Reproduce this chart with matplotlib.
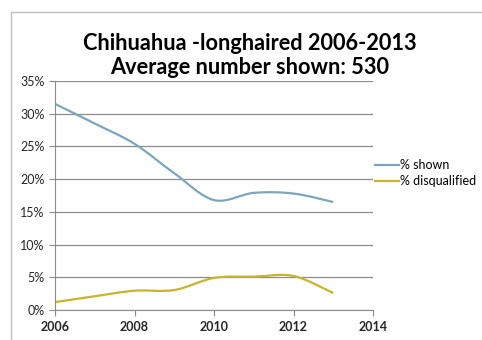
import matplotlib.pyplot as plt
import numpy as np
from matplotlib.path import Path
from matplotlib.patches import PathPatch, Rectangle
from matplotlib.lines import Line2D

years = [2006, 2007, 2008, 2009, 2010, 2011, 2012, 2013]
pct_shown = [31.5, 28.5, 25.4, 20.9, 16.8, 17.9, 17.8, 16.5]
pct_disq = [1.2, 2.1, 2.95, 3.05, 4.9, 5.1, 5.2, 2.6]
series_names = ['% shown', '% disqualified']
colors = ['#7BA7BC', '#C9B42B']

plt.rcParams['font.family'] = ['Lato', 'DejaVu Sans']


def smooth_path(x, y):
    # Excel-style smoothed line: cubic bezier through each point
    pts = np.column_stack([x, y]).astype(float)
    n = len(pts)
    verts = [pts[0]]
    codes = [Path.MOVETO]
    for i in range(n - 1):
        p0 = pts[max(i - 1, 0)]
        p1 = pts[i]
        p2 = pts[i + 1]
        p3 = pts[min(i + 2, n - 1)]
        c1 = p1 + (p2 - p0) / 6.0
        c2 = p2 - (p3 - p1) / 6.0
        verts += [c1, c2, p2]
        codes += [Path.CURVE4] * 3
    return Path(verts, codes)


fig = plt.figure(figsize=(4.82, 3.4), dpi=100)
fig.patches.append(Rectangle((11 / 482, -0.1), 1.2, 1 - 12 / 340 + 0.1,
                             transform=fig.transFigure, fill=False,
                             edgecolor='#BFBFBF', linewidth=1))

ax = fig.add_axes([55 / 482, 1 - 310 / 340, 318 / 482, 229 / 340])
for vals, c in zip([pct_shown, pct_disq], colors):
    ax.add_patch(PathPatch(smooth_path(years, vals), facecolor='none',
                           edgecolor=c, linewidth=1.6))

ax.set_xlim(2006, 2014)
ax.set_ylim(0, 35)
ax.set_xticks(range(2006, 2015, 2))
ax.set_yticks(range(0, 36, 5))
ax.set_yticklabels([f'{v}%' for v in range(0, 36, 5)])
ax.grid(axis='y', color='#8C8C8C', linewidth=0.9)
ax.set_axisbelow(True)
for s in ['top', 'right']:
    ax.spines[s].set_visible(False)
for s in ['left', 'bottom']:
    ax.spines[s].set_color('#8C8C8C')
ax.tick_params(axis='both', direction='out', length=4, color='#8C8C8C',
               labelsize=9, labelcolor='#262626')
ax.tick_params(axis='x', pad=4)
for lbl in ax.get_xticklabels():
    lbl.set_fontweight('bold')

handles = [Line2D([], [], color=c, linewidth=1.6) for c in colors]
fig.legend(handles, series_names, loc='center left',
           bbox_to_anchor=(370 / 482, 1 - 173 / 340), frameon=False,
           fontsize=9, handlelength=1.9, handletextpad=0.1,
           labelspacing=0.3, borderaxespad=0)

fig.text(250 / 482, 1 - 44 / 340, 'Chihuahua -longhaired 2006-2013',
         ha='center', va='center', fontsize=15.7, fontweight='bold')
fig.text(250 / 482, 1 - 68 / 340, 'Average number shown: 530',
         ha='center', va='center', fontsize=15.7, fontweight='bold')

fig.savefig('out.png', dpi=100)
